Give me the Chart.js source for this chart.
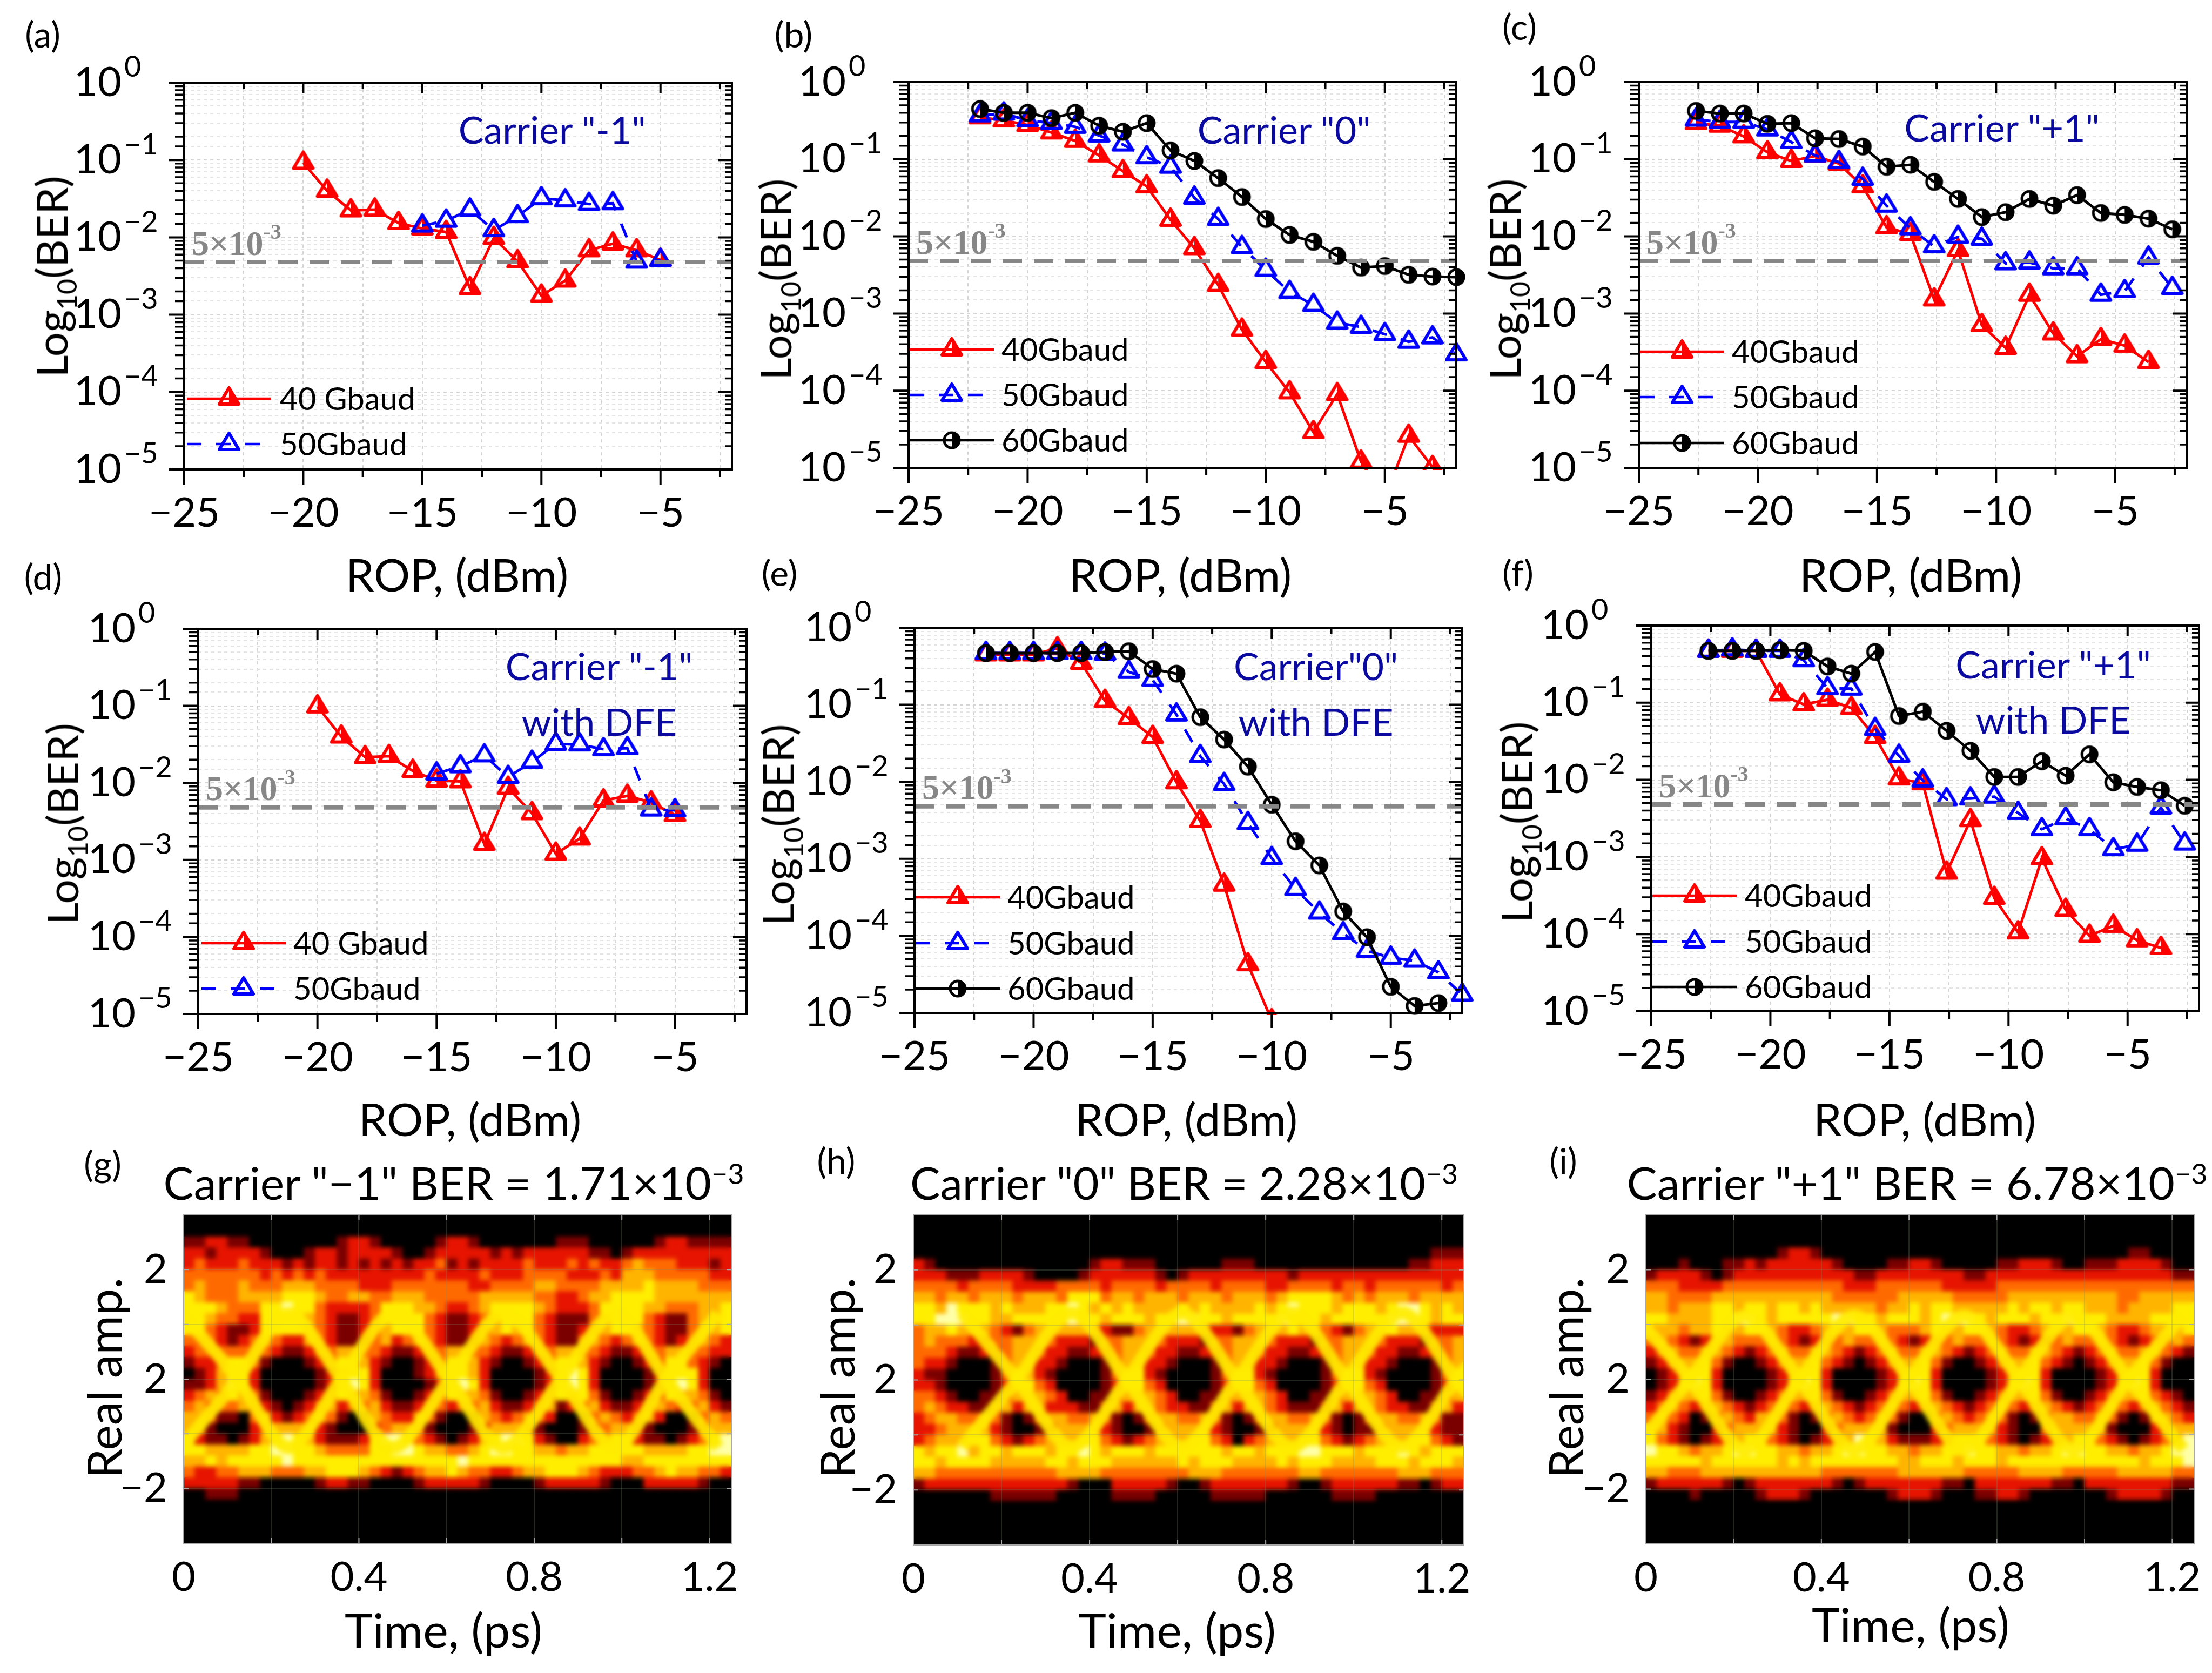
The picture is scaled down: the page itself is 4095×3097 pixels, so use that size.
<!DOCTYPE html>
<html>
<head>
<meta charset="utf-8">
<style>
  html, body { margin: 0; padding: 0; background: #fff; }
  body { position: relative; width: 4095px; height: 3097px; overflow: hidden; font-family: Lato, sans-serif; color: #000; }
  canvas { position: absolute; }
  .txt { position: absolute; white-space: nowrap; line-height: 1; transform: translate(-50%, -50%); }
  .txt sub, .txt sup { line-height: 0; font-size: .62em; }
</style>
<script src="https://cdn.jsdelivr.net/npm/chart.js@4"></script>
</head>
<body>
<script>
// x values
const rop16 = [-20,-19,-18,-17,-16,-15,-14,-13,-12,-11,-10,-9,-8,-7,-6,-5];
const rop11 = [-15,-14,-13,-12,-11,-10,-9,-8,-7,-6,-5];
const rop21 = [-22,-21,-20,-19,-18,-17,-16,-15,-14,-13,-12,-11,-10,-9,-8,-7,-6,-5,-4,-3,-2];
const rop21b = [-22.6,-21.6,-20.6,-19.6,-18.6,-17.6,-16.6,-15.6,-14.6,-13.6,-12.6,-11.6,-10.6,-9.6,-8.6,-7.6,-6.6,-5.6,-4.6,-3.6,-2.6];
const ropTicks = [-25,-22.5,-20,-17.5,-15,-12.5,-10,-7.5,-5,-2.5];
const timeTicks = [0,0.2,0.4,0.6,0.8,1,1.2];
const ampTicks = [-2,-1,0,1,2];
const threshold = 0.0048;

// panel (a)
const berA40 = [.092,.040,.0223,.0228,.0153,.013,.0117,.0022,.0098,.0049,.00176,.00276,.0068,.0083,.0068,.0051];
const berA50 = [.0142,.0164,.0228,.0124,.0188,.032,.030,.027,.0276,.00485,.0051];
// panel (b)
const berB40 = [.349,.318,.278,.222,.173,.112,.070,.0445,.0164,.00703,.00234,.000616,.000235,9.5e-5,2.9e-5,9e-5,1.2e-5,4e-6,2.6e-5,1.02e-5];
const berB50 = [.37,.39,.32,.295,.263,.203,.155,.106,.080,.0317,.0168,.00726,.00368,.0019,.00129,.00076,.00067,.00054,.00043,.00049,.000295];
const berB60 = [.448,.40,.40,.341,.40,.272,.227,.294,.130,.095,.057,.0324,.0168,.01045,.0085,.0056,.00394,.00413,.00318,.00301,.00297];
// panel (c)
const berC40 = [.294,.272,.198,.123,.095,.11,.0877,.0445,.0131,.0107,.00152,.00664,.000706,.000358,.00175,.00055,.000279,.000465,.000383,.000235];
const berC50 = [.326,.305,.305,.243,.167,.112,.0918,.0557,.025,.0127,.00743,.00986,.00932,.00447,.00457,.00385,.00385,.00175,.00195,.0053,.00214];
const berC60 = [.423,.391,.391,.288,.294,.187,.183,.146,.080,.0848,.0509,.0306,.0178,.0206,.0306,.025,.0343,.0201,.019,.017,.01236];
// panel (d)
const berD40 = [.098,.0399,.0215,.0222,.0143,.0107,.01045,.00161,.0086,.00403,.0012,.00189,.00589,.00678,.00557,.00382];
const berD50 = [.0132,.0164,.0227,.0119,.0187,.0321,.0315,.0273,.0282,.0045,.0044];
// panel (e)
const berE40 = [.45,.45,.45,.54,.35,.112,.0668,.0381,.00984,.00309,.000461,4.27e-5,8e-6];
const berE50 = [.469,.469,.469,.469,.469,.46,.267,.21,.0745,.0215,.00933,.0029,.00102,.000405,.0002,.000108,6.4e-5,5.2e-5,4.75e-5,3.36e-5,1.72e-5];
const berE60 = [.469,.469,.469,.469,.469,.484,.495,.291,.253,.069,.0353,.0157,.00504,.00169,.00082,.000207,9.6e-5,2.18e-5,1.23e-5,1.34e-5];
// panel (f)
const berF40 = [.47,.47,.47,.128,.095,.109,.0853,.0359,.0104,.00901,.000625,.003,.000294,.000105,.00096,.000206,9.5e-5,.000128,8.3e-5,6.6e-5];
const berF50 = [.47,.49,.47,.47,.355,.154,.152,.0456,.0205,.0098,.0056,.00573,.00605,.00372,.00229,.00316,.00229,.00126,.00144,.00437,.00149];
const berF60 = [.47,.47,.47,.48,.47,.295,.238,.455,.0672,.0765,.0432,.0238,.0109,.0109,.0174,.0113,.0214,.0093,.0081,.00734,.00461];

// eye diagrams: colour level per cell (0 black .. 6 pale yellow), 50 columns by 30 rows, top row first
const eyeG = [
"0000000000 0000000000 0000000000 0000000000 0000000000",
"0000000000 0000000000 0000000000 0000000000 0000000000",
"1122110000 0000122100 0001221000 0000111000 0001221111",
"2212222100 0122122221 0012222212 1222222110 1222222222",
"2322232221 2122121212 1223121222 2322232322 3433322212",
"3333333232 3232222222 2232222322 2333322232 4443333322",
"3433343334 4433332223 3333332233 3344333344 4454444333",
"5433344445 5543344334 4433333444 4433223445 5554444444",
"5554333556 5532222355 5443223455 5543222355 5544333445",
"5543322555 5432112355 5532112345 5532111345 5532113445",
"5532112555 5432112345 5532112345 4532112345 5432113445",
"3332123432 2432112342 3432112432 3432113432 3432123432",
"2333333321 1233443321 1233443321 1233443321 1233443322",
"1223553100 0123554210 0123554210 0123554210 0123553210",
"0124552000 0012455200 0124554200 0012565200 0012555200",
"1124652000 0012565200 0012565200 0012565200 0012565200",
"2343543100 0123544310 0123544310 0123545310 0123544310",
"3433343210 1234233421 1233233421 1234123421 1234323421",
"4431103421 2343101432 2431001432 3432001343 2342001343",
"4410002344 4421000234 4310001244 4310001234 4210001244",
"5211012456 5421112566 5321012456 6521002345 5211012356",
"5544445566 5543333556 6544334566 5544344555 5544445566",
"4454555556 5555555555 5555565555 5555555555 4455555555",
"3223344433 3445554321 2344543322 3445554322 2334544332",
"2222211000 0012211000 0122222100 0012222210 0022222100",
"0011100000 0000000000 0000000000 0000000000 0000000000",
"0000000000 0000000000 0000000000 0000000000 0000000000",
"0000000000 0000000000 0000000000 0000000000 0000000000",
"0000000000 0000000000 0000000000 0000000000 0000000000",
"0000000000 0000000000 0000000000 0000000000 0000000000"];
const eyeH = [
"0000000000 0000000000 0000000000 0000000000 0000000000",
"0000000000 0000000000 0000000000 0000000000 0000000000",
"0000000000 0000000000 0000000000 0000000000 0000000000",
"0000000000 0000000000 0000000000 0000000000 0000000111",
"2100000000 0000001221 1100000011 1000000000 0000011222",
"2221112222 1000012222 2210122222 2222122222 2222222222",
"3333233332 2223333233 3323333233 3322333323 3233333323",
"4434434443 4443555344 3444344434 4434555543 4344434444",
"5546555454 4455654545 4444545444 4545655545 5545665454",
"5566655445 5555655455 5455665545 5556555455 5556665455",
"3445444321 3444443211 3444443221 3444544321 3445443222",
"3433322334 4432221334 4432221334 4432221334 4432221334",
"3332112234 4322112234 4322112234 4322112234 4322112234",
"3221000134 4221000134 4221000134 4221000134 4221000134",
"2110000135 4210000135 5210000135 5210000135 5210000135",
"2210000125 5320000125 5320000125 5320000125 5320000125",
"3321001134 4432001134 4432001134 4432001134 4432001134",
"3432211342 4422211342 4432211342 4432111242 4432211342",
"2344334310 1344334310 1344334310 1344334310 1344334311",
"2234444210 0124444210 0134444210 0124444210 1134444211",
"2344455321 2344455321 2344455320 2344455321 2344455321",
"5455645545 5545565455 5455555545 5455566555 4555654555",
"5545555444 4455455544 4444545554 4445455544 4455545554",
"4433333333 3334444333 3333344433 3333344333 3333444333",
"1222222222 2222100022 2221001222 2222100122 2222110122",
"0000000111 1110000011 1100000111 1100000011 1100000000",
"0000000000 0000000000 0000000000 0000000000 0000000000",
"0000000000 0000000000 0000000000 0000000000 0000000000",
"0000000000 0000000000 0000000000 0000000000 0000000000",
"0000000000 0000000000 0000000000 0000000000 0000000000"];
const eyeI = [
"0000000000 0000000000 0000000000 0000000000 0000000000",
"0000000000 0000000000 0000000000 0000000000 0000000000",
"0000000000 0000000000 0000000000 0000000000 0000000000",
"0000000000 0012210000 0000000000 0000000000 0000110000",
"0001000112 1222222100 0011221000 0011222100 1112222100",
"1222210122 2222222221 1222222221 1222222222 2222222211",
"3332222333 3333333322 2333333222 2233333333 3333333333",
"4433334444 4444444333 3334444433 3334444444 4443344444",
"4434445545 5455454444 4344545544 4445455455 4443444455",
"5544445566 5455555665 5455545666 5455545565 5544445555",
"4443445445 5432234445 5433345445 5432234445 5432234445",
"3432124433 3432123343 3432123343 3432122343 3432123343",
"2343344321 2343344321 2343344321 2343344321 2343344321",
"1234453100 1234453210 1234453100 1234453210 1234453100",
"0124552000 0124552000 0124552000 0124552000 0124552000",
"0125652000 0125652000 0125652000 0125652000 0125652000",
"1234453100 1234453100 1234453100 1234453100 1234453210",
"2343234321 2343234321 2343234321 2343234321 2343234321",
"3432013432 4431013432 3431003432 3431013443 3431014432",
"4421002344 4421002344 4410002344 4421003444 4410002344",
"5321012345 5321012346 5421112355 5321012345 5321012346",
"6554344566 5544344566 5544344556 5544344566 5544344566",
"5555545555 5545455555 5554455545 5545555555 5555545556",
"4433344444 4444443333 3334444443 3333444433 3334444433",
"1222222101 2222222101 2222222110 2222222110 2222222211",
"0000100000 1222100000 0012221000 1122100000 0012222100",
"0000000000 0000000000 0000000000 0000000000 0000000000",
"0000000000 0000000000 0000000000 0000000000 0000000000",
"0000000000 0000000000 0000000000 0000000000 0000000000",
"0000000000 0000000000 0000000000 0000000000 0000000000"];

// bright crossing bands of each eye diagram
const bandTimeG = [-.005,.124,.24,.359,.478,.606,.73,.861,.985,1.10,1.22];
const bandG1 = [1.2,0,-1.25,0,1.2,0,-1.25,0,1.2,0,-1.25];
const bandG2 = [-1.25,0,1.2,0,-1.25,0,1.2,0,-1.25,0,1.2];
const bandTimeH = [.11,.235,.36,.484,.61,.734,.86,.983,1.11,1.232,1.36];
const bandH1 = [1.22,0,-1.22,0,1.22,0,-1.22,0,1.22,0,-1.22];
const bandH2 = [-1.22,0,1.22,0,-1.22,0,1.22,0,-1.22,0,1.22];
const bandTimeI = [-.025,.1,.225,.35,.475,.6,.725,.851,.975,1.1,1.225];
const bandI1 = [1.16,0,-1.28,0,1.16,0,-1.28,0,1.16,0,-1.28];
const bandI2 = [-1.28,0,1.16,0,-1.28,0,1.16,0,-1.28,0,1.16];

const eyeColors = ['#000000','#7a0000','#e61400','#ff6a00','#ffb400','#ffee00','#ffffa8'];
const RED = '#ff0000', BLUE = '#0000ff', BLACK = '#000000', NAVY = '#0a0aa0', GREY = '#878787';

Chart.defaults.font.family = 'Lato';
Chart.defaults.color = '#000';
Chart.defaults.animation = false;

function pageText(html, x, y, size, opts) {
  opts = opts || {};
  const d = document.createElement('div');
  d.className = 'txt';
  d.innerHTML = html;
  d.style.left = x + 'px';
  d.style.top = y + 'px';
  d.style.fontSize = size + 'px';
  if (opts.color) d.style.color = opts.color;
  if (opts.rotate) d.style.transform = 'translate(-50%, -50%) rotate(-90deg)';
  document.body.appendChild(d);
}

function markerCanvas(draw) {
  const c = document.createElement('canvas');
  c.width = 54; c.height = 54;
  const g = c.getContext('2d');
  g.translate(27, 27);
  draw(g);
  return c;
}
function triangle(color, half) {
  return markerCanvas(g => {
    g.strokeStyle = color; g.fillStyle = color;
    g.lineWidth = 6; g.lineJoin = 'round';
    g.beginPath(); g.moveTo(0, -20); g.lineTo(18, 10); g.lineTo(-18, 10); g.closePath(); g.stroke();
    if (half) { g.beginPath(); g.moveTo(0, -20); g.lineTo(18, 10); g.lineTo(0, 10); g.closePath(); g.fill(); }
  });
}
const circleMark = markerCanvas(g => {
  g.strokeStyle = BLACK; g.fillStyle = BLACK; g.lineWidth = 5;
  g.beginPath(); g.arc(0, 0, 14, 0, Math.PI * 2); g.stroke();
  g.beginPath(); g.arc(0, 0, 14, -Math.PI / 2, Math.PI / 2); g.closePath(); g.fill();
});
const seriesStyle = {
  '40': { color: RED, dash: [], mark: triangle(RED, true), order: 3 },
  '50': { color: BLUE, dash: [27, 27], mark: triangle(BLUE, false), order: 2 },
  '60': { color: BLACK, dash: [], mark: circleMark, order: 1 }
};

const isDecade = v => Math.abs(Math.log10(v) - Math.round(Math.log10(v))) < 1e-6;
const noPadding = s => { s.paddingTop = 0; s.paddingBottom = 0; s.paddingLeft = 0; s.paddingRight = 0; };

// frame, tick marks, exponents, threshold label and legend
const berDecor = {
  id: 'berDecor',
  afterDraw(chart) {
    const { ctx, chartArea: a, scales } = chart;
    const p = chart.options.plugins.berDecor;
    ctx.save();
    ctx.strokeStyle = '#000';
    ctx.lineWidth = 4;
    ctx.strokeRect(a.left, a.top, a.right - a.left, a.bottom - a.top);
    ropTicks.forEach(v => {
      const x = scales.x.getPixelForValue(v);
      const major = v % 5 === 0;
      ctx.lineWidth = 4;
      ctx.beginPath();
      ctx.moveTo(x, a.bottom); ctx.lineTo(x, a.bottom + (major ? 28 : 14));
      ctx.moveTo(x, a.top); ctx.lineTo(x, a.top + (major ? 20 : 12));
      ctx.stroke();
    });
    scales.y.ticks.forEach(t => {
      const y = scales.y.getPixelForValue(t.value);
      const major = isDecade(t.value);
      ctx.lineWidth = major ? 4 : 3.5;
      ctx.beginPath();
      ctx.moveTo(a.left, y); ctx.lineTo(a.left - (major ? 28 : 17), y);
      ctx.moveTo(a.right, y); ctx.lineTo(a.right - (major ? 25 : 13), y);
      ctx.stroke();
      if (major) {
        const e = Math.round(Math.log10(t.value));
        ctx.fillStyle = '#000';
        ctx.font = '54px Lato';
        ctx.textAlign = 'left';
        ctx.textBaseline = 'middle';
        ctx.fillText(e === 0 ? '0' : '\u2212' + Math.abs(e), a.left - 111, y - 28);
      }
    });
    // threshold label
    const ty = scales.y.getPixelForValue(threshold);
    ctx.fillStyle = GREY;
    ctx.textAlign = 'left';
    ctx.textBaseline = 'middle';
    ctx.font = 'bold 64px "Liberation Serif"';
    const base = '5\u00d710';
    ctx.fillText(base, a.left + 14, ty - 30);
    const w = ctx.measureText(base).width;
    ctx.font = 'bold 40px "Liberation Serif"';
    ctx.fillText('-3', a.left + 14 + w, ty - 53);
    // legend
    p.legend.forEach((row, i) => {
      const s = seriesStyle[row.kind];
      const y = a.bottom - p.rows[i];
      ctx.strokeStyle = s.color;
      ctx.lineWidth = 4.5;
      ctx.setLineDash(s.dash);
      ctx.beginPath();
      ctx.moveTo(a.left + p.lineX, y);
      ctx.lineTo(a.left + p.lineX + (s.dash.length ? 135 : 156), y);
      ctx.stroke();
      ctx.setLineDash([]);
      ctx.drawImage(s.mark, a.left + p.lineX + 78 - 27, y - 27);
      ctx.fillStyle = '#000';
      ctx.font = '58px Lato';
      ctx.fillText(row.label, a.left + p.textX, y + 2);
    });
    ctx.restore();
  }
};

function berChart(p) {
  const cv = document.createElement('canvas');
  const padL = 240, padT = 100, padR = 50, padB = 110;
  cv.width = p.width + padL + padR; cv.height = p.height + padT + padB;
  cv.style.left = (p.left - padL) + 'px';
  cv.style.top = (p.top - padT) + 'px';
  document.body.appendChild(cv);
  const datasets = p.series.map(s => {
    const st = seriesStyle[s.kind];
    return {
      data: s.y.map((v, i) => ({ x: s.x[i], y: v })),
      showLine: true, borderColor: st.color, borderWidth: 5, borderDash: st.dash, tension: 0,
      pointStyle: st.mark, pointRadius: 15, pointHoverRadius: 15,
      order: st.order, clip: { left: 0, top: 0, right: 30, bottom: 4 }
    };
  });
  datasets.push({
    data: [{ x: -25, y: threshold }, { x: -2, y: threshold }],
    showLine: true, borderColor: GREY, borderWidth: 8, borderDash: [36, 22],
    pointRadius: 0, order: 0
  });
  new Chart(cv, {
    type: 'scatter',
    data: { datasets },
    plugins: [berDecor],
    options: {
      responsive: false, devicePixelRatio: 1,
      layout: { autoPadding: false, padding: { left: 0, top: padT, right: padR, bottom: 0 } },
      plugins: {
        legend: { display: false }, tooltip: { enabled: false },
        berDecor: { legend: p.legend, rows: p.rows, lineX: p.lineX, textX: p.textX }
      },
      scales: {
        x: {
          type: 'linear', min: -25, max: -2,
          afterBuildTicks: s => { s.ticks = ropTicks.map(v => ({ value: v })); },
          afterFit: s => { s.height = padB; noPadding(s); },
          ticks: {
            autoSkip: false, maxRotation: 0, padding: 36, font: { size: 76 },
            callback: v => (v % 5 === 0 ? '\u2212' + Math.abs(v) : '')
          },
          grid: { color: '#d4d4d4', lineWidth: 2, drawTicks: false },
          border: { display: false, dash: [6, 6] }
        },
        y: {
          type: 'logarithmic', min: 1e-5, max: 1,
          afterFit: s => { s.width = padL; noPadding(s); },
          ticks: {
            autoSkip: false, padding: 116, font: { size: 76 },
            callback: v => (isDecade(v) ? '10' : '')
          },
          grid: { color: c => (isDecade(c.tick.value) ? '#d4d4d4' : '#e4e4e4'), lineWidth: 2, drawTicks: false },
          border: { display: false, dash: [6, 6] }
        }
      }
    }
  });
}

// black backdrop, soft blur of the cells, thin grey frame with inward ticks
const eyeDecor = {
  id: 'eyeDecor',
  beforeDatasetsDraw(chart) {
    const { ctx, chartArea: a } = chart;
    ctx.save();
    ctx.fillStyle = '#000';
    ctx.fillRect(a.left, a.top, a.right - a.left, a.bottom - a.top);
    ctx.restore();
  },
  afterDatasetsDraw(chart) {
    const { ctx, chartArea: a } = chart;
    const w = a.right - a.left, h = a.bottom - a.top;
    ctx.save();
    ctx.beginPath(); ctx.rect(a.left, a.top, w, h); ctx.clip();
    ctx.filter = 'blur(4px)';
    ctx.drawImage(chart.canvas, a.left, a.top, w, h, a.left, a.top, w, h);
    ctx.restore();
  },
  afterDraw(chart) {
    const { ctx, chartArea: a, scales } = chart;
    ctx.save();
    ctx.strokeStyle = '#a8a8a8';
    ctx.lineWidth = 2;
    ctx.strokeRect(a.left, a.top, a.right - a.left, a.bottom - a.top);
    timeTicks.forEach(v => {
      const x = scales.x.getPixelForValue(v);
      ctx.beginPath();
      ctx.moveTo(x, a.top); ctx.lineTo(x, a.top + 9);
      ctx.moveTo(x, a.bottom); ctx.lineTo(x, a.bottom - 9);
      ctx.stroke();
    });
    ampTicks.forEach(v => {
      const y = scales.y.getPixelForValue(v);
      ctx.beginPath();
      ctx.moveTo(a.left, y); ctx.lineTo(a.left + 9, y);
      ctx.moveTo(a.right, y); ctx.lineTo(a.right - 9, y);
      ctx.stroke();
    });
    ctx.restore();
  }
};

function eyeChart(p) {
  const cv = document.createElement('canvas');
  const padL = 140, padT = 10, padR = 30, padB = 110;
  cv.width = p.width + padL + padR; cv.height = p.height + padT + padB;
  cv.style.left = (p.left - padL) + 'px';
  cv.style.top = (p.top - padT) + 'px';
  document.body.appendChild(cv);
  const cells = [];
  p.cells.forEach((row, r) => {
    row.replace(/ /g, '').split('').forEach((ch, c) => {
      cells.push({ x: (c + 0.5) * 0.025, y: 3 - (r + 0.5) * 0.2, v: Number(ch) });
    });
  });
  const bandSet = ys => ({
    data: ys.map((v, i) => ({ x: p.bandTime[i], y: v })),
    showLine: true, borderColor: 'rgba(255,236,0,0.92)', borderWidth: 24, tension: 0.3,
    pointRadius: 0, order: 0
  });
  new Chart(cv, {
    type: 'scatter',
    data: { datasets: [{
      data: cells,
      pointStyle: 'rect', pointRadius: 15, pointBorderWidth: 0, order: 1,
      pointBackgroundColor: c => eyeColors[c.raw ? c.raw.v : 0]
    }, bandSet(p.bandA), bandSet(p.bandB)] },
    plugins: [eyeDecor],
    options: {
      responsive: false, devicePixelRatio: 1,
      layout: { autoPadding: false, padding: { left: 0, top: padT, right: padR, bottom: 0 } },
      plugins: { legend: { display: false }, tooltip: { enabled: false } },
      scales: {
        x: {
          type: 'linear', min: 0, max: 1.25,
          afterBuildTicks: s => { s.ticks = timeTicks.map(v => ({ value: v })); },
          afterFit: s => { s.height = padB; noPadding(s); },
          ticks: {
            autoSkip: false, maxRotation: 0, padding: 18, font: { size: 76 },
            callback: v => (['0', '0.4', '0.8', '1.2'].includes(String(v)) ? String(v) : '')
          },
          grid: { color: 'rgba(120,140,110,0.28)', lineWidth: 2, drawTicks: false, z: 1 },
          border: { display: false }
        },
        y: {
          type: 'linear', min: -3, max: 3,
          afterBuildTicks: s => { s.ticks = ampTicks.map(v => ({ value: v })); },
          afterFit: s => { s.width = padL; noPadding(s); },
          ticks: {
            autoSkip: false, padding: 30, font: { size: 76 },
            callback: v => (v === -2 ? '\u22122' : (v === 0 || v === 2 ? '2' : ''))
          },
          grid: { color: 'rgba(120,140,110,0.28)', lineWidth: 2, drawTicks: false, z: 1 },
          border: { display: false }
        }
      }
    }
  });
}

const twoRows = [131, 47];
const threeRowsB = [219, 135, 51];
const threeRowsC = [215, 131, 46];
const threeRowsE = [214, 129, 45];
const legend2 = [{ kind: '40', label: '40 Gbaud' }, { kind: '50', label: '50Gbaud' }];
const legend3 = [{ kind: '40', label: '40Gbaud' }, { kind: '50', label: '50Gbaud' }, { kind: '60', label: '60Gbaud' }];

berChart({ left: 341, top: 153, width: 1014, height: 716, rows: twoRows, legend: legend2, lineX: 5, textX: 177,
  series: [{ kind: '40', x: rop16, y: berA40 }, { kind: '50', x: rop11, y: berA50 }] });
berChart({ left: 1682, top: 152, width: 1014, height: 714, rows: threeRowsB, legend: legend3, lineX: 2, textX: 172,
  series: [{ kind: '40', x: rop21, y: berB40 }, { kind: '50', x: rop21, y: berB50 }, { kind: '60', x: rop21, y: berB60 }] });
berChart({ left: 3034, top: 152, width: 1014, height: 714, rows: threeRowsC, legend: legend3, lineX: 2, textX: 172,
  series: [{ kind: '40', x: rop21b, y: berC40 }, { kind: '50', x: rop21b, y: berC50 }, { kind: '60', x: rop21b, y: berC60 }] });
berChart({ left: 367, top: 1164, width: 1015, height: 713, rows: twoRows, legend: legend2, lineX: 6, textX: 176,
  series: [{ kind: '40', x: rop16, y: berD40 }, { kind: '50', x: rop11, y: berD50 }] });
berChart({ left: 1693, top: 1162, width: 1014, height: 713, rows: threeRowsE, legend: legend3, lineX: 2, textX: 172,
  series: [{ kind: '40', x: rop21, y: berE40 }, { kind: '50', x: rop21, y: berE50 }, { kind: '60', x: rop21, y: berE60 }] });
berChart({ left: 3057, top: 1158, width: 1014, height: 714, rows: threeRowsE, legend: legend3, lineX: 2, textX: 173,
  series: [{ kind: '40', x: rop21b, y: berF40 }, { kind: '50', x: rop21b, y: berF50 }, { kind: '60', x: rop21b, y: berF60 }] });

eyeChart({ left: 340, top: 2249, width: 1014, height: 608, cells: eyeG, bandTime: bandTimeG, bandA: bandG1, bandB: bandG2 });
eyeChart({ left: 1691, top: 2249, width: 1019, height: 611, cells: eyeH, bandTime: bandTimeH, bandA: bandH1, bandB: bandH2 });
eyeChart({ left: 3047, top: 2249, width: 1015, height: 609, cells: eyeI, bandTime: bandTimeI, bandA: bandI1, bandB: bandI2 });

// panel letters
[['(a)', 79, 63], ['(b)', 1469, 63], ['(c)', 2813, 49], ['(d)', 80, 1067], ['(e)', 1443, 1060], ['(f)', 2810, 1060],
 ['(g)', 190, 2154], ['(h)', 1548, 2148], ['(i)', 2894, 2148]].forEach(t => pageText(t[0], t[1], t[2], 66));

// carrier notes
[['Carrier "-1"', 1022, 239], ['Carrier "0"', 2377, 239], ['Carrier "+1"', 3706, 235],
 ['Carrier "-1"', 1109, 1232], ['with DFE', 1109, 1335],
 ['Carrier"0"', 2436, 1232], ['with DFE', 2436, 1335],
 ['Carrier "+1"', 3801, 1229], ['with DFE', 3801, 1331]].forEach(t => pageText(t[0], t[1], t[2], 70, { color: NAVY }));

// axis titles
const ropTitle = 'ROP, (dBm)';
[[846, 1063], [2185, 1063], [3537, 1063], [870, 2071], [2196, 2071], [3563, 2071]].forEach(t => pageText(ropTitle, t[0], t[1], 84));
const logTitle = 'Log<sub>10</sub>(BER)';
[[94, 512], [1434, 517], [2784, 517], [114, 1525], [1439, 1527], [2806, 1522]].forEach(t => pageText(logTitle, t[0], t[1], 80, { rotate: true }));
[[821, 3016], [2179, 3016], [3537, 3006]].forEach(t => pageText('Time, (ps)', t[0], t[1], 88));
[[191, 2551], [1548, 2551], [2897, 2551]].forEach(t => pageText('Real amp.', t[0], t[1], 88, { rotate: true }));

// eye titles
pageText('Carrier "\u22121" BER = 1.71\u00d710<sup>\u22123</sup>', 840, 2189, 84);
pageText('Carrier "0" BER = 2.28\u00d710<sup>\u22123</sup>', 2192, 2189, 83);
pageText('Carrier "+1" BER = 6.78\u00d710<sup>\u22123</sup>', 3549, 2189, 84);
</script>
</body>
</html>
